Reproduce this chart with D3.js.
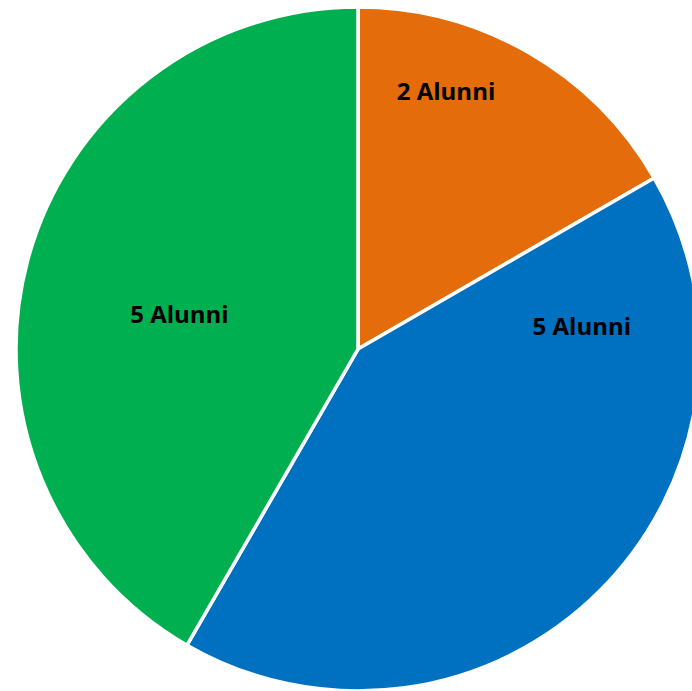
<!DOCTYPE html>
<html>
<head>
<meta charset="utf-8">
<script src="https://cdn.jsdelivr.net/npm/d3@7"></script>
<style>
  html, body { margin: 0; padding: 0; background: #fff; overflow: hidden; }
</style>
</head>
<body>
<div id="chart"></div>
<script>
const categories = ["A", "B", "C"]
const values = [2, 5, 5]
const labels = ["2 Alunni", "5 Alunni", "5 Alunni"]
const colors = ["#E46C0A", "#0070C0", "#00B050"]

const width = 692, height = 691
const cx = 358, cy = 349, radius = 342

// where excel put each label: angle (deg, clockwise from top) and distance from centre
const labelPlace = [
    { angle: 18.8, r: 273 },
    { angle: 84.1, r: 225 },
    { angle: 281.1, r: 182 }
]

const svg = d3.select("#chart")
    .append("svg")
    .attr("width", width)
    .attr("height", height)

const pie = d3.pie().sort(null).value(d => d.value)
const arcs = pie(categories.map((c, i) => ({ cat: c, value: values[i], label: labels[i] })))

const arc = d3.arc().innerRadius(0).outerRadius(radius)

const g = svg.append("g")
    .attr("transform", `translate(${cx}, ${cy})`)

g.selectAll("path")
    .data(arcs)
    .enter()
    .append("path")
    .attr("d", arc)
    .attr("fill", (d, i) => colors[i])
    .attr("stroke", "#fff")
    .attr("stroke-width", 3.5)
    .attr("stroke-linejoin", "round")

g.selectAll("text")
    .data(arcs)
    .enter()
    .append("text")
    .attr("transform", (d, i) => {
        const a = labelPlace[i].angle * Math.PI / 180
        const x = Math.sin(a) * labelPlace[i].r
        const y = -Math.cos(a) * labelPlace[i].r
        return `translate(${x}, ${y})`
    })
    .attr("text-anchor", "middle")
    .attr("dominant-baseline", "central")
    .style("font-family", "'Open Sans', sans-serif")
    .style("font-weight", "bold")
    .style("font-size", "24px")
    .style("fill", "#000")
    .text(d => d.data.label)
</script>
</body>
</html>
